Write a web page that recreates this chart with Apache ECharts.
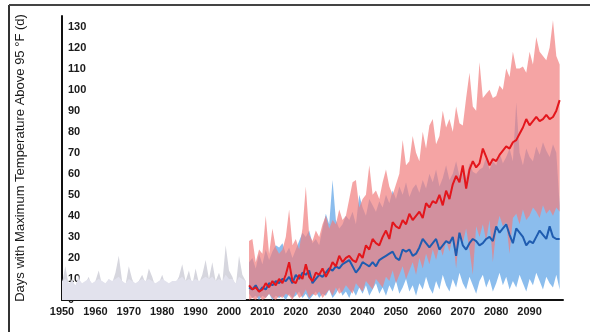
<!DOCTYPE html>
<html>
<head>
<meta charset="utf-8">
<script src="https://cdn.jsdelivr.net/npm/echarts@6/dist/echarts.min.js"></script>
<style>
	html, body {margin: 0; padding: 0; background: #fff;}
	#main {width: 590px; height: 332px;}
</style>
</head>
<body>
<div id="main"></div>
<script>
// observed 1950-2005
const histYears = [];
for (let y = 1950; y <= 2005; y++) histYears.push(y);
const histPeak = [
	8, 16, 7, 10, 6, 12, 5, 8, 11, 6,
	9, 14, 7, 5, 10, 8, 13, 21, 9, 7,
	16, 10, 6, 9, 12, 8, 15, 11, 6, 8,
	12, 7, 5, 9, 8, 11, 17, 9, 14, 7,
	15, 8, 12, 19, 10, 18, 9, 13, 8, 26,
	14, 11, 6, 21, 12, 9
];
const histBase = [
	9, 10, 8, 9, 7, 10, 8, 9, 10, 8,
	9, 10, 9, 8, 10, 9, 10, 11, 9, 8,
	10, 9, 8, 9, 10, 9, 10, 9, 8, 9,
	10, 9, 8, 9, 9, 10, 11, 9, 10, 9,
	10, 9, 10, 11, 10, 11, 9, 10, 9, 12,
	10, 10, 8, 11, 10, 9
];

// projections 2006-2099
const futYears = [];
for (let y = 2006; y <= 2099; y++) futYears.push(y);

const highMean = [
	7, 5, 6, 4, 5, 8, 6, 9, 7, 10,
	8, 12, 18, 9, 8, 12, 10, 17, 11, 9,
	13, 12, 15, 11, 14, 18, 16, 21, 18, 20,
	21, 19, 18, 22, 20, 26, 24, 29, 27, 26,
	30, 33, 29, 37, 35, 34, 38, 36, 41, 38,
	40, 42, 39, 46, 44, 47, 46, 50, 45, 52,
	48, 55, 59, 56, 64, 53, 62, 66, 63, 65,
	72, 68, 64, 67, 66, 69, 71, 73, 72, 75,
	76, 79, 82, 86, 83, 85, 87, 85, 86, 88,
	86, 87, 90, 95
];
const highUpper = [
	28, 29, 18, 24, 22, 40, 22, 34, 25, 22,
	24, 30, 43, 26, 29, 24, 34, 54, 31, 28,
	33, 30, 36, 40, 34, 38, 36, 43, 38, 40,
	48, 56, 57, 44, 48, 50, 64, 50, 52, 48,
	56, 62, 54, 50, 55, 60, 76, 64, 66, 78,
	70, 66, 80, 72, 83, 86, 74, 78, 90, 82,
	86, 80, 92, 84, 83, 96, 108, 92, 90, 113,
	96, 98, 100, 96, 97, 102, 100, 110, 106, 118,
	110, 110, 111, 108, 118, 112, 125, 118, 116, 114,
	120, 133, 116, 112
];
const highLower = [
	0, 1, 0, 2, 0, 1, 3, 1, 0, 2,
	1, 3, 2, 0, 4, 1, 2, 5, 1, 3,
	2, 4, 1, 3, 5, 2, 6, 3, 4, 7,
	5, 3, 8, 6, 4, 9, 7, 5, 10, 8,
	6, 11, 9, 14, 8, 12, 16, 10, 14, 18,
	12, 20, 15, 22, 17, 24, 19, 26, 21, 28,
	23, 30, 15, 32, 27, 34, 24, 12, 35, 30,
	36, 28, 38, 18, 33, 40, 35, 37, 22, 39,
	41, 36, 43, 38, 40, 44, 42, 39, 45, 41,
	43, 40, 44, 42
];

const lowMean = [
	6, 5, 7, 4, 6, 5, 8, 7, 9, 8,
	10, 9, 11, 8, 12, 10, 13, 12, 14, 8,
	10, 12, 11, 13, 15, 14, 16, 15, 17, 18,
	19, 16, 13, 15, 18, 17, 16, 18, 16, 19,
	20, 21, 22, 23, 20, 19, 24, 23, 24, 21,
	22, 25, 29, 27, 25, 27, 29, 24, 26, 28,
	27, 30, 21, 32, 26, 24, 27, 29, 28, 26,
	27, 29, 30, 28, 35, 32, 34, 36, 31, 27,
	34, 32, 30, 26, 28, 27, 30, 33, 31, 29,
	35, 30, 29, 29
];
const lowUpper = [
	18, 20, 15, 22, 17, 24, 19, 23, 26, 25,
	27, 22, 25, 20, 24, 28, 32, 30, 33, 27,
	29, 26, 34, 41, 36, 57, 38, 34, 36, 40,
	38, 42, 36, 50, 44, 40, 48, 45, 42, 47,
	44, 50, 46, 52, 48, 54, 50, 56, 49, 53,
	55, 51, 57, 53, 60, 56, 62, 54, 58, 64,
	57, 60, 66, 59, 63, 58, 65, 61, 60, 62,
	63, 68, 62, 66, 64, 70, 65, 68, 72, 66,
	94, 70, 64, 72, 68, 66, 73, 69, 75, 71,
	68, 74, 70, 45
];
const lowLower = [
	3, 1, 2, 0, 2, 1, 3, 0, 2, 1,
	2, 0, 3, 1, 2, 4, 1, 3, 0, 2,
	4, 1, 3, 2, 5, 1, 3, 6, 2, 4,
	1, 5, 2, 6, 3, 7, 2, 5, 8, 3,
	6, 2, 7, 4, 9, 3, 6, 10, 4, 7,
	2, 8, 5, 11, 6, 3, 9, 5, 12, 7,
	4, 10, 6, 13, 8, 5, 11, 7, 3, 9,
	12, 6, 10, 4, 8, 13, 7, 11, 5, 9,
	6, 12, 8, 4, 10, 7, 13, 9, 5, 11,
	8, 6, 12, 5
];

const pairs = (xs, vs) => xs.map((x, i) => [x, vs[i]]);

const fontFamily = '"Liberation Sans", Arial, sans-serif';

// range band as one polygon, drawn once through the axis scales
const band = (name, lower, upper, color) => ({
	name: name, type: 'custom', silent: true, z: 2,
	data: futYears.map((x, i) => [x, lower[i], upper[i]]),
	encode: {x: 0, y: [1, 2]},
	renderItem(params, api) {
		if (params.dataIndex !== 0) return null;
		const top = futYears.map((x, i) => api.coord([x, upper[i]]));
		const bottom = futYears.map((x, i) => api.coord([x, lower[i]])).reverse();
		return {
			type: 'polygon',
			shape: {points: top.concat(bottom)},
			style: {fill: color}
		};
	}
});

const chart = echarts.init(document.getElementById('main'));
chart.setOption({
	animation: false,
	grid: {left: 62, right: 27, top: 16, bottom: 32},
	xAxis: {
		type: 'value', min: 1950, max: 2100, interval: 10,
		axisLine: {show: true, onZero: false, lineStyle: {color: '#111', width: 2}},
		axisTick: {show: false},
		splitLine: {show: false},
		axisLabel: {
			showMaxLabel: false, margin: 6, color: '#1a1a1a',
			fontSize: 11, fontWeight: 'bold', fontFamily: fontFamily,
			formatter: v => String(v)
		}
	},
	yAxis: {
		type: 'value', min: 0, max: 135, interval: 10,
		name: 'Days with Maximum Temperature Above 95 °F (d)',
		nameLocation: 'middle', nameRotate: 90, nameGap: 35,
		nameTextStyle: {fontSize: 13, color: '#1a1a1a', fontFamily: fontFamily},
		axisLine: {show: true, lineStyle: {color: '#111', width: 2}},
		axisTick: {show: false},
		splitLine: {show: false},
		axisLabel: {
			inside: true, showMaxLabel: false, margin: 6, color: '#1a1a1a',
			fontSize: 11, fontWeight: 'bold', fontFamily: fontFamily
		}
	},
	series: [
		{
			name: 'observed-peak', type: 'line', data: pairs(histYears, histPeak),
			symbol: 'none', lineStyle: {width: 0}, areaStyle: {color: '#d6d6de', opacity: 1}, z: 1
		},
		{
			name: 'observed', type: 'line', data: pairs(histYears, histBase),
			symbol: 'none', lineStyle: {width: 0}, areaStyle: {color: '#e2e2ed', opacity: 1}, z: 1
		},
		band('low', lowLower, lowUpper, 'rgba(110,172,232,0.8)'),
		band('high', highLower, highUpper, 'rgba(241,126,126,0.7)'),
		{
			name: 'low-mean', type: 'line', data: pairs(futYears, lowMean),
			symbol: 'none', lineStyle: {color: '#1f5cb0', width: 2}, z: 4
		},
		{
			name: 'high-mean', type: 'line', data: pairs(futYears, highMean),
			symbol: 'none', lineStyle: {color: '#e3161c', width: 2}, z: 5
		}
	],
	graphic: [
		{type: 'line', shape: {x1: 9, y1: 5, x2: 9, y2: 332}, style: {stroke: '#333', lineWidth: 2}},
		{type: 'line', shape: {x1: 9, y1: 5, x2: 590, y2: 5}, style: {stroke: '#444', lineWidth: 2}}
	]
});
</script>
</body>
</html>
